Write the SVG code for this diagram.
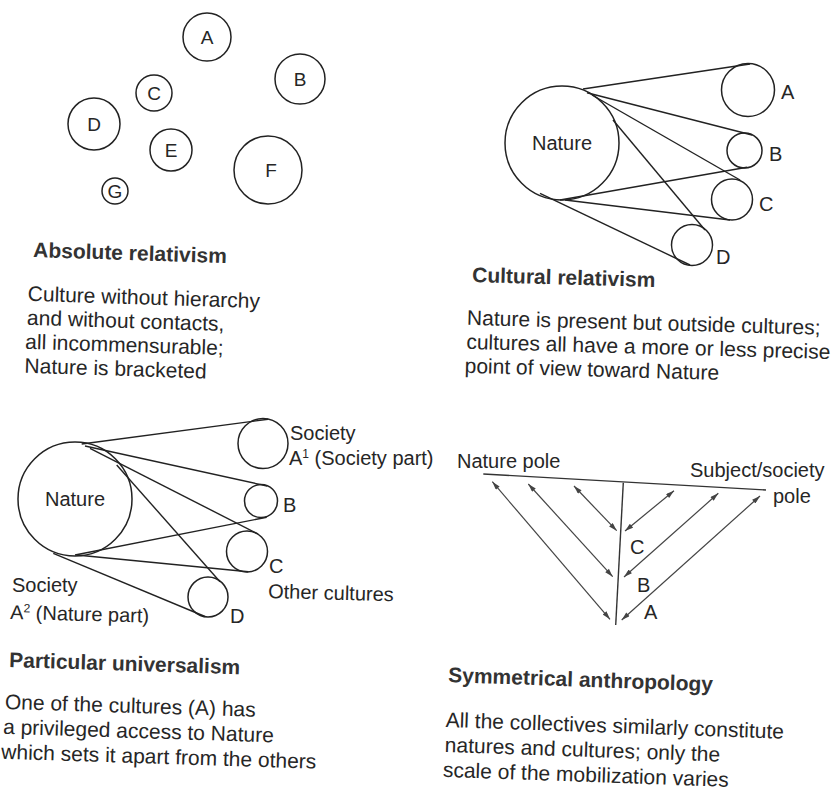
<svg xmlns="http://www.w3.org/2000/svg" width="837" height="799" viewBox="0 0 837 799">
<defs>
<style>
text{font-family:"Liberation Sans",Arial,Helvetica,sans-serif;fill:#262626;}
.t{font-size:21px;font-weight:bold;fill:#333;}
.b{font-size:21px;}
.l{font-size:20px;}
.s{font-size:19px;}
.c{fill:none;stroke:#222;stroke-width:1.5;}
.ln{stroke:#222;stroke-width:1.4;fill:none;}
.ar{stroke:#444;stroke-width:1.2;fill:none;marker-start:url(#ah);marker-end:url(#ah);}
.ax{stroke:#333;stroke-width:1.4;fill:none;}
</style>
<marker id="ah" viewBox="0 0 10 6" refX="10" refY="3" markerWidth="10" markerHeight="5" markerUnits="userSpaceOnUse" orient="auto-start-reverse">
<path d="M0,0 L10,3 L0,6 z" fill="#444"/>
</marker>
</defs>

<!-- Panel 1: Absolute relativism -->
<g id="p1-A"><circle class="c" cx="207" cy="37" r="24"/><text class="s" x="207" y="44" text-anchor="middle">A</text></g>
<g id="p1-B"><circle class="c" cx="300" cy="79" r="25"/><text class="s" x="300" y="86" text-anchor="middle">B</text></g>
<g id="p1-C"><circle class="c" cx="154" cy="93" r="18"/><text class="s" x="154" y="100" text-anchor="middle">C</text></g>
<g id="p1-D"><circle class="c" cx="94" cy="124" r="26"/><text class="s" x="94" y="131" text-anchor="middle">D</text></g>
<g id="p1-E"><circle class="c" cx="171" cy="150" r="21"/><text class="s" x="171" y="157" text-anchor="middle">E</text></g>
<g id="p1-F"><circle class="c" cx="268" cy="170" r="34"/><text class="s" x="271" y="177" text-anchor="middle">F</text></g>
<g id="p1-G"><circle class="c" cx="115" cy="191" r="13"/><text class="s" x="115" y="198" text-anchor="middle">G</text></g>
<g id="p1-text" transform="rotate(1.8 33 257)">
<text class="t" x="33" y="257">Absolute relativism</text>
<text class="b" x="29" y="301">Culture without hierarchy</text>
<text class="b" x="29" y="325">and without contacts,</text>
<text class="b" x="28" y="349">all incommensurable;</text>
<text class="b" x="28" y="373">Nature is bracketed</text>
</g>

<!-- Panel 2: Cultural relativism -->
<g id="p2-connectors">
<line class="ln" x1="583" y1="89" x2="750" y2="64"/>
<line class="ln" x1="587" y1="92.7" x2="752" y2="135"/>
<line class="ln" x1="592" y1="95" x2="740" y2="180"/>
<line class="ln" x1="613" y1="120" x2="705" y2="230"/>
<line class="ln" x1="560" y1="200" x2="747" y2="167.3"/>
<line class="ln" x1="565" y1="200" x2="730" y2="220"/>
<line class="ln" x1="540" y1="193.3" x2="690" y2="265"/>
</g>
<g id="p2-Nature"><circle class="c" cx="562" cy="143" r="57"/><text class="l" x="562" y="150" text-anchor="middle">Nature</text></g>
<g id="p2-A"><circle class="c" cx="748" cy="90" r="26.5"/><text class="l" x="781" y="99">A</text></g>
<g id="p2-B"><circle class="c" cx="744.5" cy="150.5" r="17.5"/><text class="l" x="769" y="161">B</text></g>
<g id="p2-C"><circle class="c" cx="732" cy="199.5" r="20.5"/><text class="l" x="759" y="211">C</text></g>
<g id="p2-D"><circle class="c" cx="692" cy="245" r="20.5"/><text class="l" x="716" y="264">D</text></g>
<g id="p2-text" transform="rotate(1.6 472 282)">
<text class="t" x="472" y="282">Cultural relativism</text>
<text class="b" x="468" y="325">Nature is present but outside cultures;</text>
<text class="b" x="468" y="349">cultures all have a more or less precise</text>
<text class="b" x="467" y="373">point of view toward Nature</text>
</g>

<!-- Panel 3: Particular universalism -->
<g id="p3-connectors">
<line class="ln" x1="81.7" y1="444" x2="268" y2="419.3"/>
<line class="ln" x1="85" y1="446" x2="267" y2="486"/>
<line class="ln" x1="90" y1="448.3" x2="258" y2="534"/>
<line class="ln" x1="116.7" y1="465" x2="220" y2="581.7"/>
<line class="ln" x1="75" y1="555" x2="266.7" y2="517.3"/>
<line class="ln" x1="76.7" y1="555" x2="248.3" y2="571.7"/>
<line class="ln" x1="53.3" y1="553.3" x2="205" y2="616.5"/>
</g>
<g id="p3-Nature"><circle class="c" cx="75" cy="499" r="57"/><text class="l" x="75" y="506" text-anchor="middle">Nature</text></g>
<g id="p3-A"><circle class="c" cx="263" cy="443.5" r="25"/>
<text class="l" x="290" y="440">Society</text>
<text class="l" x="289" y="465">A<tspan font-size="12" dy="-7">1</tspan><tspan dy="7"> (Society part)</tspan></text></g>
<g id="p3-B"><circle class="c" cx="261" cy="501" r="16.5"/><text class="l" x="283" y="512">B</text></g>
<g id="p3-C"><circle class="c" cx="247" cy="551.5" r="20.5"/><text class="l" x="269" y="573">C</text>
<text class="l" x="268" y="598" transform="rotate(1.5 268 598)">Other cultures</text></g>
<g id="p3-D"><circle class="c" cx="208" cy="597" r="20"/><text class="l" x="230" y="623">D</text>
<text class="l" x="12" y="592">Society</text>
<text class="l" x="10" y="619" transform="rotate(1.5 10 619)">A<tspan font-size="12" dy="-7">2</tspan><tspan dy="7"> (Nature part)</tspan></text></g>
<g id="p3-text" transform="rotate(1.8 9 667)">
<text class="t" x="9" y="667">Particular universalism</text>
<text class="b" x="6" y="709">One of the cultures (A) has</text>
<text class="b" x="5" y="734">a privileged access to Nature</text>
<text class="b" x="4" y="759">which sets it apart from the others</text>
</g>

<!-- Panel 4: Symmetrical anthropology -->
<g id="p4-connectors">
<line class="ax" x1="483.3" y1="474" x2="766" y2="490"/>
<line class="ax" x1="623.3" y1="482.7" x2="615.7" y2="625"/>
<line class="ar" x1="492.3" y1="481.7" x2="610" y2="619.3"/>
<line class="ar" x1="528.3" y1="484" x2="612.7" y2="576.7"/>
<line class="ar" x1="574" y1="486" x2="616.7" y2="530.7"/>
<line class="ar" x1="674" y1="490.7" x2="625" y2="531"/>
<line class="ar" x1="718.3" y1="493.3" x2="624" y2="577"/>
<line class="ar" x1="760" y1="496" x2="621.7" y2="620"/>
</g>
<g id="p4-nature-pole"><text class="l" x="457" y="468">Nature pole</text></g>
<g id="p4-subject-pole"><text class="l" x="690" y="477">Subject/society</text><text class="l" x="773" y="503">pole</text></g>
<g id="p4-C"><text class="l" x="630" y="554">C</text></g>
<g id="p4-B"><text class="l" x="637" y="592">B</text></g>
<g id="p4-A"><text class="l" x="644" y="619">A</text></g>
<g id="p4-text" transform="rotate(2 448 682)">
<text class="t" x="448" y="682">Symmetrical anthropology</text>
<text class="b" x="447" y="727">All the collectives similarly constitute</text>
<text class="b" x="447" y="752">natures and cultures; only the</text>
<text class="b" x="446" y="777">scale of the mobilization varies</text>
</g>
</svg>
